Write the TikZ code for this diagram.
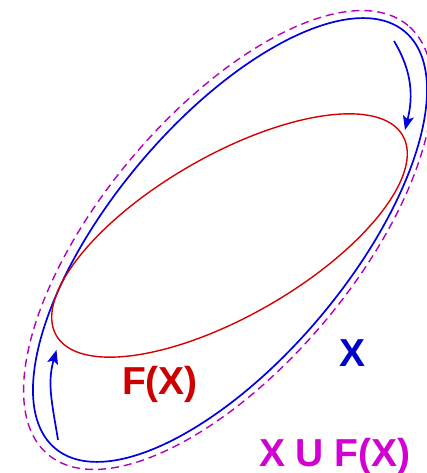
\documentclass[tikz,border=0pt]{standalone}
\usepackage{fontspec}
\setmainfont{Liberation Sans}
\usetikzlibrary{arrows.meta}
\definecolor{xblue}{RGB}{0,0,225}
\definecolor{fred}{RGB}{215,0,0}
\definecolor{umag}{RGB}{180,0,190}
\definecolor{utext}{RGB}{210,0,210}
\definecolor{xtext}{RGB}{0,0,205}
\definecolor{ftext}{RGB}{205,0,0}
\begin{document}
\begin{tikzpicture}[x=1pt,y=1pt,
  setx/.style={draw=xblue, line width=1.7pt},
  setf/.style={draw=fred, line width=1.4pt},
  setu/.style={draw=umag, line width=1.4pt, dash pattern=on 8pt off 5pt},
  flow/.style={draw=xblue, line width=1.7pt, -{Stealth[length=14pt,width=11pt,inset=3pt]}},
  lab/.style={font=\bfseries\fontsize{39}{39}\selectfont, inner sep=0pt, anchor=base}]
\useasboundingbox (0,0) rectangle (427,473);
% union (dashed)
\draw[setu, rotate around={50:(228,233)}] (228,233) ellipse [x radius=280pt, y radius=126.5pt];
% X
\draw[setx, rotate around={50:(230,233)}] (230,233) ellipse [x radius=272pt, y radius=118.5pt];
% F(X)
\draw[setf, rotate around={30:(229.5,237.5)}] (229.5,237.5) ellipse [x radius=200pt, y radius=80pt];
% flow arrows
\coordinate (a1) at (394,432);
\coordinate (a2) at (405,343);
\coordinate (b1) at (58,33);
\coordinate (b2) at (56.5,123);
\draw[flow] (a1) to[out=-59, in=76] (a2);
\draw[flow] (b1) to[out=99, in=-106] (b2);
% labels
\node[lab, text=ftext] (fx) at (160,78) {F(X)};
\node[lab, text=xtext] (x) at (352.5,106) {X};
\node[lab, text=utext] (u) at (335,6) {X U F(X)};
\end{tikzpicture}
\end{document}
